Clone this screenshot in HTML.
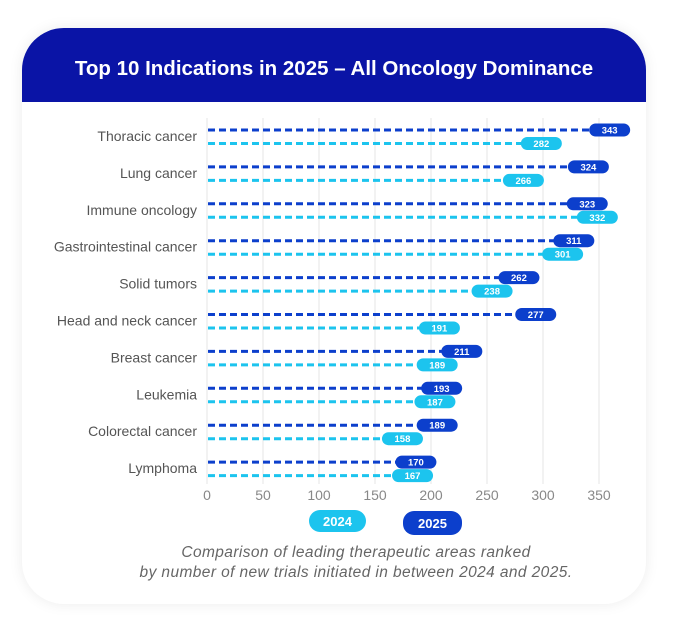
<!DOCTYPE html>
<html><head><meta charset="utf-8"><style>
body{margin:0;width:682px;height:629px;background:#fff;font-family:"Liberation Sans",sans-serif;overflow:hidden;position:relative}
#card{position:absolute;left:22px;top:28px;width:624px;height:576px;border-radius:42px;background:#fff;box-shadow:0 0 14px rgba(0,0,0,0.08);overflow:hidden}
#hdr{position:absolute;left:0;top:0;width:624px;height:74px;background:#0a14a6;color:#fff;font-weight:bold;font-size:20.5px;line-height:82px;text-align:center}
.cap{position:absolute;left:15px;width:682px;text-align:center;font-style:italic;color:#666;font-size:15.5px;letter-spacing:0.4px}
</style></head><body>
<div id="card"><div id="hdr">Top 10 Indications in 2025 – All Oncology Dominance</div></div>
<svg id="ch" width="682" height="629" style="position:absolute;left:0;top:0"></svg>
<div class="cap" style="top:544px">Comparison of leading therapeutic areas ranked</div>
<div class="cap" style="top:564px">by number of new trials initiated in between 2024 and 2025.</div>
<script>
const categories=["Thoracic cancer","Lung cancer","Immune oncology","Gastrointestinal cancer","Solid tumors","Head and neck cancer","Breast cancer","Leukemia","Colorectal cancer","Lymphoma"];
const values2025=[343,324,323,311,262,277,211,193,189,170];
const values2024=[282,266,332,301,238,191,189,187,158,167];
const ticks=[0,50,100,150,200,250,300,350];
const svg=document.getElementById('ch');const NS='http://www.w3.org/2000/svg';
const x=v=>207+v*1.12;const y=i=>130+i*36.9;
function mk(t,a,p){const e=document.createElementNS(NS,t);for(const k in a)e.setAttribute(k,a[k]);(p||svg).appendChild(e);return e;}
ticks.forEach(t=>{
const l=mk('line',{x1:x(t),x2:x(t),y1:118,y2:484,stroke:'#e6e6e6','stroke-width':1});


const tx=mk('text',{x:x(t),y:500,'text-anchor':'middle','font-size':14,fill:'#888'});tx.textContent=t;


});
function bar(v,yy,col,name){
const g=mk('g',{});


mk('line',{x1:x(0)+1,x2:x(v),y1:yy,y2:yy,stroke:col,'stroke-width':3,'stroke-dasharray':'7 4'},g);
mk('rect',{x:x(v)-2,y:yy-6.5,width:41,height:13,rx:6.5,fill:col},g);
const t=mk('text',{x:x(v)+18.5,y:yy+3.5,'text-anchor':'middle','font-size':9.5,'font-weight':'bold',fill:'#fff'},g);t.textContent=v;}
categories.forEach((c,i)=>{
const t=mk('text',{x:197,y:y(i)+11,'text-anchor':'end','font-size':14,fill:'#555'});t.textContent=c;


bar(values2025[i],y(i),'#0c3fcc','bar-2025');
bar(values2024[i],y(i)+13.5,'#1cc4ee','bar-2024');
});
[[309,510,57,22,'#1cc4ee','2024'],[403,511,59,24,'#0c3fcc','2025']].forEach(d=>{
const g=mk('g',{});


mk('rect',{x:d[0],y:d[1],width:d[2],height:d[3],rx:11,fill:d[4]},g);
const t=mk('text',{x:d[0]+d[2]/2,y:d[1]+d[3]/2+5,'text-anchor':'middle','font-size':13,'font-weight':'bold',fill:'#fff'},g);t.textContent=d[5];});
</script>
</body></html>
